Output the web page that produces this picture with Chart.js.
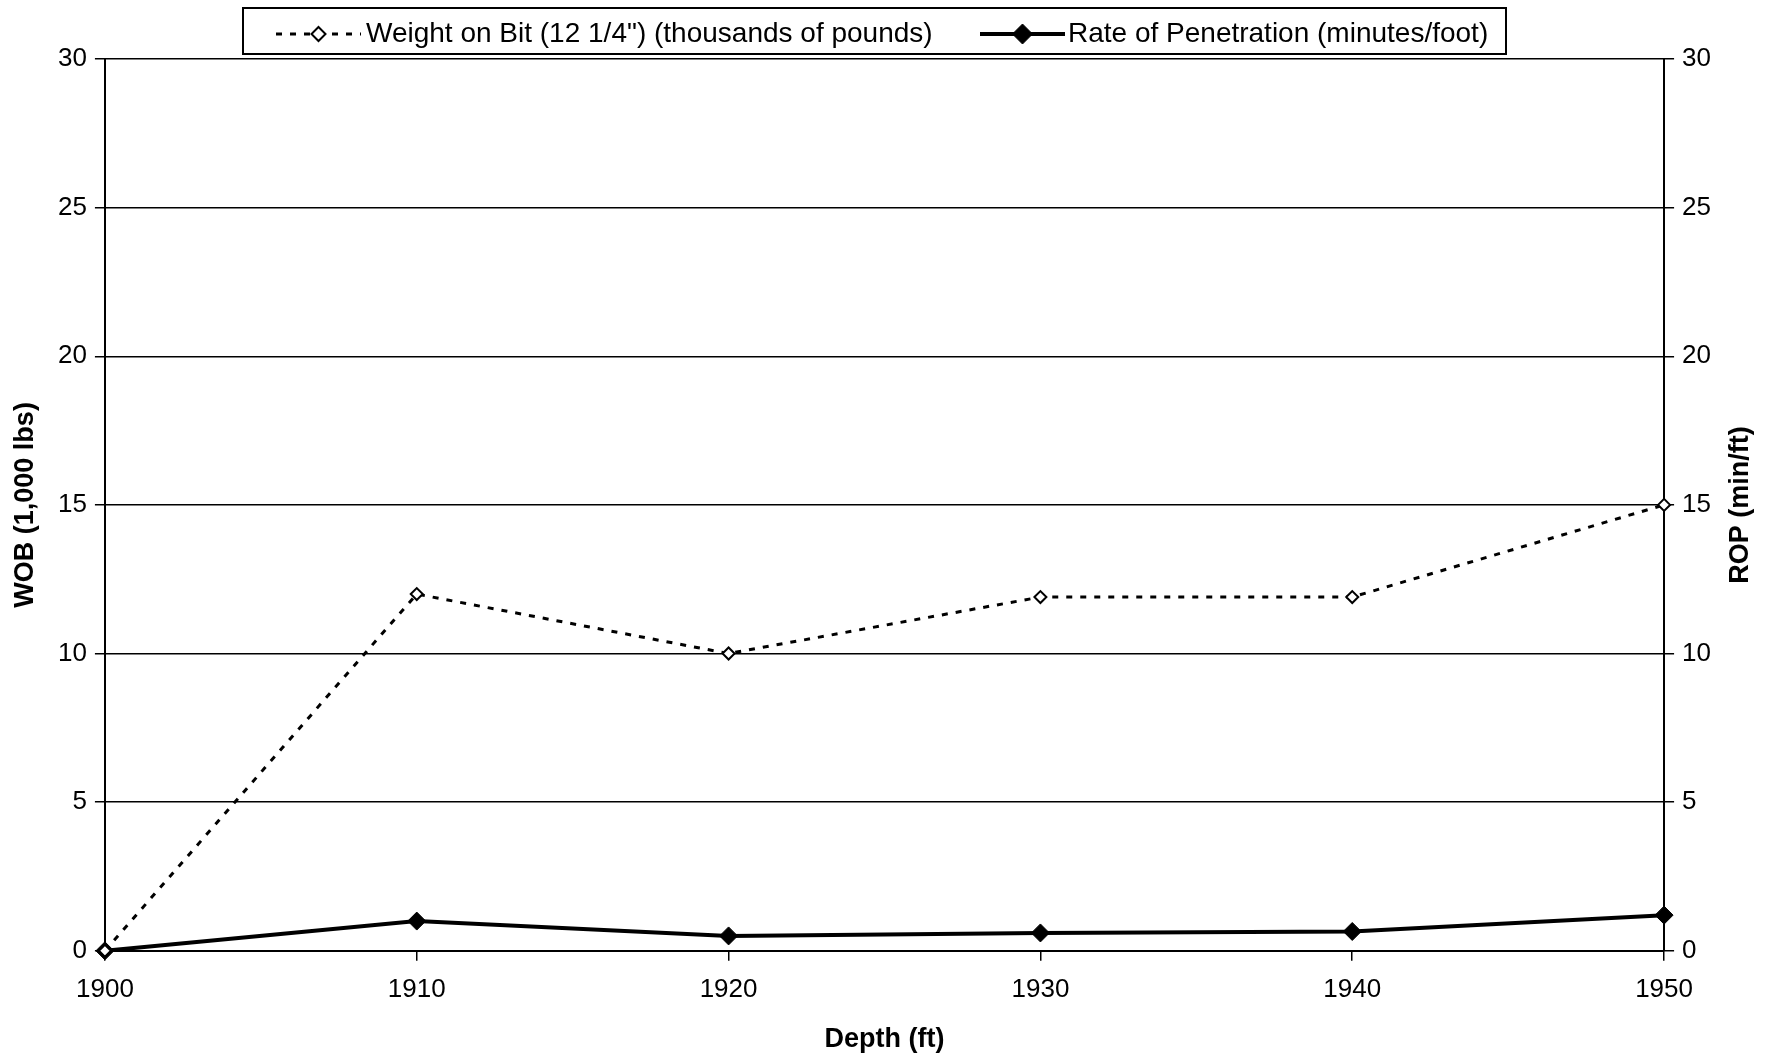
<!DOCTYPE html>
<html>
<head>
<meta charset="utf-8">
<title>WOB and ROP vs Depth</title>
<script src="https://cdn.jsdelivr.net/npm/chart.js@4.4.1/dist/chart.umd.min.js"></script>
<style>
  html, body { margin: 0; padding: 0; background: #fff; }
  #wrap { width: 1767px; height: 1055px; position: relative; }
</style>
</head>
<body>
<div id="wrap"><canvas id="myChart"></canvas></div>
<script>
// Data
const depths = [1900, 1910, 1920, 1930, 1940, 1950];
const wobValues = [0, 12, 10, 11.9, 11.9, 15];      // thousands of pounds
const ropValues = [0, 1.0, 0.5, 0.6, 0.65, 1.2];    // minutes/foot
const wobLabel = 'Weight on Bit (12 1/4") (thousands of pounds)';
const ropLabel = 'Rate of Penetration (minutes/foot)';
const xTitle = 'Depth (ft)';
const wobTitle = 'WOB (1,000 lbs)';
const ropTitle = 'ROP (min/ft)';

const FONT = '"Liberation Sans", Arial, sans-serif';

// Pair the depths with each series
const toPoints = values => depths.map((d, i) => ({ x: d, y: values[i] }));

// Legend box drawn by hand so each entry shows a line sample with its marker
const boxLegend = {
  id: 'boxLegend',
  afterDraw(chart) {
    const ctx = chart.ctx;
    ctx.save();
    ctx.strokeStyle = '#000';
    ctx.lineWidth = 2;
    ctx.strokeRect(243, 8, 1263, 46);

    const items = [
      { x0: 276, x1: 361, text: 366 },
      { x0: 980, x1: 1065, text: 1068 }
    ];
    const y = 34;
    chart.data.datasets.forEach((ds, i) => {
      const it = items[i];
      ctx.strokeStyle = ds.borderColor;
      ctx.lineWidth = ds.borderWidth;
      ctx.setLineDash(ds.borderDash || []);
      ctx.beginPath();
      ctx.moveTo(it.x0, y);
      ctx.lineTo(it.x1, y);
      ctx.stroke();
      ctx.setLineDash([]);
      // marker
      const cx = (it.x0 + it.x1) / 2, r = ds.pointRadius + 1;
      ctx.beginPath();
      ctx.moveTo(cx, y - r); ctx.lineTo(cx + r, y); ctx.lineTo(cx, y + r); ctx.lineTo(cx - r, y); ctx.closePath();
      ctx.fillStyle = ds.pointBackgroundColor;
      ctx.fill();
      ctx.lineWidth = ds.pointBorderWidth;
      ctx.strokeStyle = ds.pointBorderColor;
      ctx.stroke();
      ctx.fillStyle = '#000';
      ctx.font = '28px ' + FONT;
      ctx.textBaseline = 'middle';
      ctx.fillText(ds.label, it.text, y);
    });
    ctx.restore();
  }
};

// Right axis title reads bottom-to-top like the left one
const rightTitle = {
  id: 'rightTitle',
  afterDraw(chart) {
    const ctx = chart.ctx;
    const area = chart.chartArea;
    ctx.save();
    ctx.translate(1741, (area.top + area.bottom) / 2);
    ctx.rotate(-Math.PI / 2);
    ctx.font = 'bold 27px ' + FONT;
    ctx.fillStyle = '#000';
    ctx.textAlign = 'center';
    ctx.textBaseline = 'middle';
    ctx.fillText(ropTitle, 0, 0);
    ctx.restore();
  }
};

Chart.defaults.color = '#000';
Chart.defaults.font.family = FONT;

const ctx = document.getElementById('myChart').getContext('2d');
new Chart(ctx, {
  type: 'line',
  data: {
    datasets: [
      {
        label: wobLabel,
        data: toPoints(wobValues),
        yAxisID: 'y',
        borderColor: '#000',
        borderWidth: 3,
        borderDash: [6, 8],
        pointStyle: 'rectRot',
        pointRadius: 6,
        pointBackgroundColor: '#fff',
        pointBorderColor: '#000',
        pointBorderWidth: 2,
        tension: 0,
        clip: false
      },
      {
        label: ropLabel,
        data: toPoints(ropValues),
        yAxisID: 'y1',
        borderColor: '#000',
        borderWidth: 4,
        pointStyle: 'rectRot',
        pointRadius: 9,
        pointBackgroundColor: '#000',
        pointBorderColor: '#000',
        pointBorderWidth: 1,
        tension: 0,
        clip: false
      }
    ]
  },
  options: {
    responsive: true,
    maintainAspectRatio: false,
    animation: false,
    layout: { padding: { left: 10, right: 5, top: 59, bottom: 2 } },
    plugins: {
      legend: { display: false },
      tooltip: { enabled: false }
    },
    scales: {
      x: {
        type: 'linear',
        min: 1900,
        max: 1950,
        ticks: { stepSize: 10, padding: 13, font: { size: 26 }, callback: v => String(v) },
        grid: { drawOnChartArea: false, color: '#000', tickLength: 10, lineWidth: 1.5 },
        border: { color: '#000', width: 2 },
        title: { display: true, text: xTitle, font: { size: 27, weight: 'bold', lineHeight: 1 }, padding: { top: 8, bottom: 0 } }
      },
      y: {
        position: 'left',
        min: 0,
        max: 30,
        ticks: { stepSize: 5, padding: 8, font: { size: 26 } },
        grid: { color: '#000', lineWidth: 1.5, tickLength: 10 },
        border: { color: '#000', width: 2 },
        title: { display: true, text: wobTitle, font: { size: 27, weight: 'bold', lineHeight: 1 }, padding: { top: 2, bottom: 11 } }
      },
      y1: {
        position: 'right',
        min: 0,
        max: 30,
        ticks: { stepSize: 5, padding: 8, font: { size: 26 } },
        grid: { drawOnChartArea: false, color: '#000', lineWidth: 1.5, tickLength: 10 },
        border: { color: '#000', width: 2 },
        // space is kept here; the text itself is drawn by rightTitle
        title: { display: true, text: ropTitle, color: 'rgba(0,0,0,0)', font: { size: 27, weight: 'bold', lineHeight: 1 }, padding: { top: 2, bottom: 14 } }
      }
    }
  },
  plugins: [boxLegend, rightTitle]
});
</script>
</body>
</html>
